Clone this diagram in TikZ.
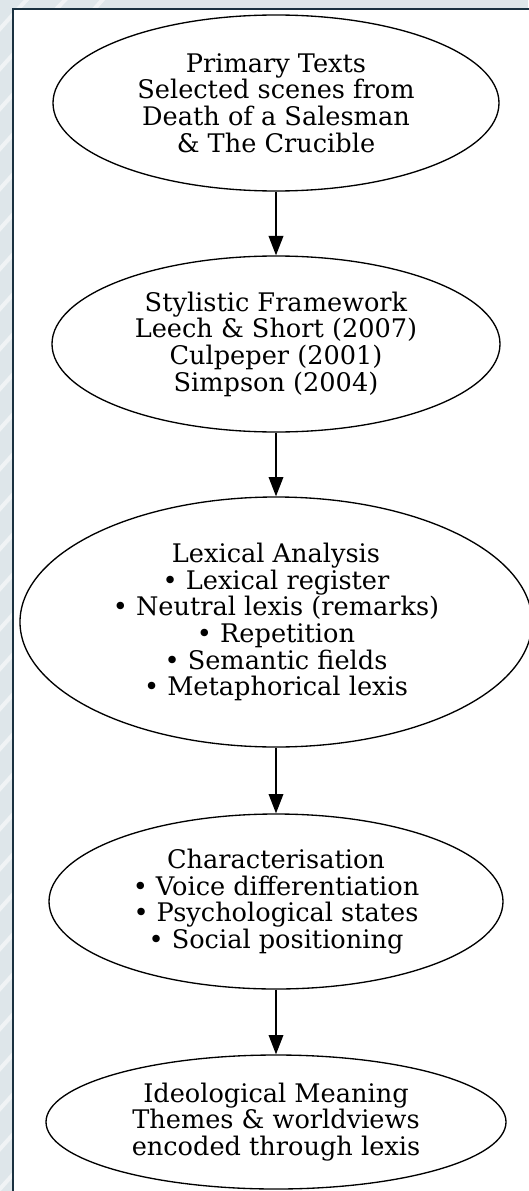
\documentclass[tikz,border=0pt]{standalone}
\usepackage{fontspec}
\setmainfont{DejaVu Serif}
\usetikzlibrary{shapes.geometric,arrows.meta}
\definecolor{bgpat}{HTML}{DEE6EA}
\definecolor{framec}{HTML}{1A3140}
\begin{document}
\begin{tikzpicture}[x=0.75pt,y=-0.75pt,
  stage/.style={ellipse,draw=black,line width=1pt,fill=white,inner sep=0pt,align=center,
    font=\fontsize{19.2}{20}\selectfont},
  arr/.style={-{Triangle[length=14.5pt,width=11pt]},line width=1pt}]
\useasboundingbox (0,0) rectangle (528,1191);
\fill[bgpat] (0,0) rectangle (528,1191);
\begin{scope}
  \clip (0,0) rectangle (13,1191) (0,0) rectangle (528,9);
  \foreach \k in {0,40,...,1400}{
    \draw[white,opacity=0.55,line width=3pt] (-40,\k) .. controls (0,\k-60) and (60,\k-110) .. (120,\k-180);
  }
\end{scope}
\fill[white] (13,9) rectangle (532,1195);
\draw[framec,line width=1.9pt] (13,1195) -- (13,9) -- (532,9);

\node[stage,minimum width=334.5pt,minimum height=132pt] (prim) at (276,103)
  {Primary Texts\\Selected scenes from\\Death of a Salesman\\\& The Crucible};
\node[stage,minimum width=336pt,minimum height=132pt] (frame) at (276,344)
  {Stylistic Framework\\Leech \& Short (2007)\\Culpeper (2001)\\Simpson (2004)};
\node[stage,minimum width=384pt,minimum height=187.5pt] (lex) at (276,622)
  {Lexical Analysis\\• Lexical register\\• Neutral lexis (remarks)\\• Repetition\\• Semantic fields\\• Metaphorical lexis};
\node[stage,minimum width=340.5pt,minimum height=131.25pt] (char) at (276,901.5)
  {Characterisation\\• Voice differentiation\\• Psychological states\\• Social positioning};
\node[stage,minimum width=345pt,minimum height=100.5pt] (ideo) at (276,1122)
  {Ideological Meaning\\Themes \& worldviews\\encoded through lexis};

\draw[arr] (prim) -- (frame);
\draw[arr] (frame) -- (lex);
\draw[arr] (lex) -- (char);
\draw[arr] (char) -- (ideo);
\end{tikzpicture}
\end{document}
